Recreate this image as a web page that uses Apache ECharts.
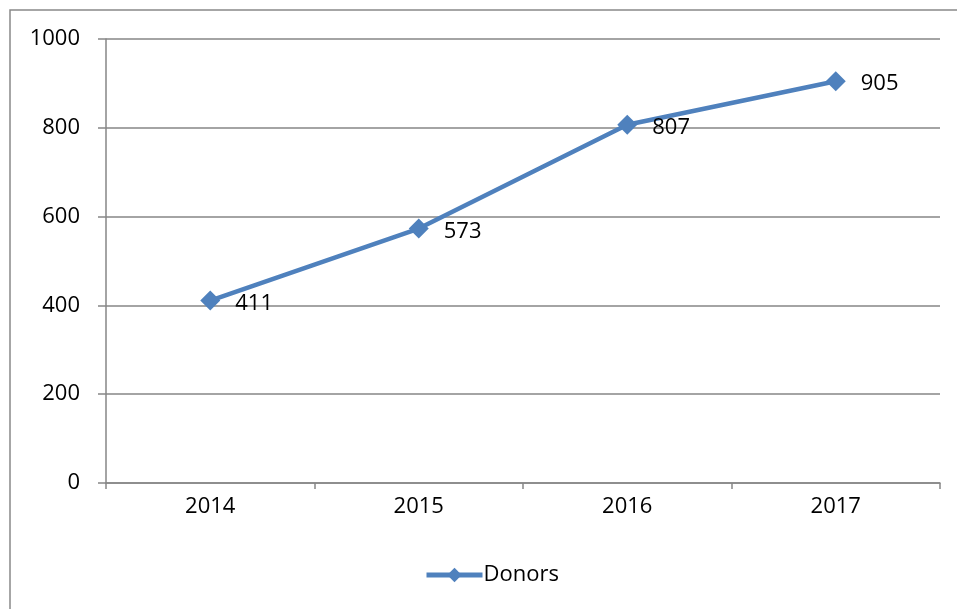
<!DOCTYPE html>
<html><head><meta charset="utf-8">
<script src="https://cdn.jsdelivr.net/npm/echarts@6/dist/echarts.min.js"></script>
<style>html,body{margin:0;padding:0;background:#fff}#c{width:957px;height:609px}</style>
</head><body><div id="c"></div>
<script>
const categories = ['2014', '2015', '2016', '2017'];
const donors = [411, 573, 807, 905];
const yTicks = [0, 200, 400, 600, 800, 1000];

const font = '"Open Sans", sans-serif';
const chart = echarts.init(document.getElementById('c'));
chart.setOption({
  animation: false,
  backgroundColor: '#fff',
  graphic: [{
    type: 'rect', shape: { x: 10, y: 10, width: 1000, height: 700 },
    style: { fill: 'none', stroke: '#898989', lineWidth: 1.5 }, silent: true, z: -1
  }],
  grid: { left: 106, right: 17, top: 39, bottom: 126, containLabel: false },
  legend: {
    bottom: 18, left: 419,
    data: [{ name: 'Donors' }],
    itemWidth: 56, itemHeight: 18, itemGap: 4,
    lineStyle: { width: 5 },
    textStyle: { fontFamily: font, fontSize: 22, color: '#000', padding: [0, 0, 0, -4] }
  },
  xAxis: {
    type: 'category', data: categories, boundaryGap: true,
    axisLine: { lineStyle: { color: '#868686', width: 1.5 } },
    axisTick: { show: true, length: 6, alignWithLabel: false, lineStyle: { color: '#868686', width: 1.5 } },
    axisLabel: { fontFamily: font, fontSize: 22, color: '#000', margin: 13 }
  },
  yAxis: {
    type: 'value', min: yTicks[0], max: yTicks[yTicks.length - 1], interval: 200,
    axisLine: { show: true, lineStyle: { color: '#868686', width: 1.5 } },
    axisTick: { show: true, length: 8, lineStyle: { color: '#868686', width: 1.5 } },
    splitLine: { show: true, lineStyle: { color: '#868686', width: 1.5 } },
    axisLabel: { fontFamily: font, fontSize: 22, color: '#000', margin: 26, formatter: v => String(v) }
  },
  series: [{
    name: 'Donors', type: 'line', data: donors,
    symbol: 'diamond', symbolSize: 20,
    lineStyle: { color: '#4F81BD', width: 4.5 },
    itemStyle: { color: '#4F81BD' },
    label: { show: true, position: 'right', distance: 15, fontFamily: font, fontSize: 22, color: '#000', offset: [0, 3] }
  }]
});
</script></body></html>
